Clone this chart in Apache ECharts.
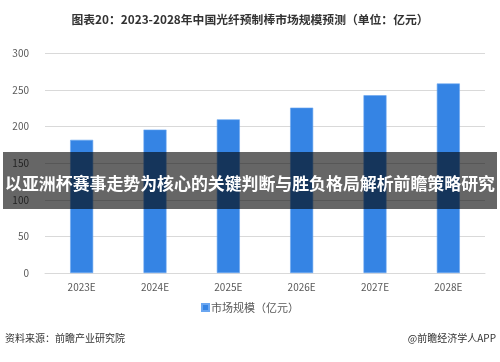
<!DOCTYPE html>
<html>
<head>
<meta charset="utf-8">
<script src="https://cdn.jsdelivr.net/npm/echarts@6/dist/echarts.min.js"></script>
<style>
html,body{margin:0;padding:0;background:#fff;}
#chart{width:500px;height:362px;}
</style>
</head>
<body>
<div id="chart"></div>
<script>
const categories = ['2023E','2024E','2025E','2026E','2027E','2028E'];
const marketSize = [182, 196, 210, 226, 243, 259];
const seriesName = '市场规模（亿元）';
const titleText = '图表20：2023-2028年中国光纤预制棒市场规模预测（单位：亿元）';
const sourceText = '资料来源：前瞻产业研究院';
const bannerText = '以亚洲杯赛事走势为核心的关键判断与胜负格局解析前瞻策略研究';

const chart = echarts.init(document.getElementById('chart'));
const font = '"Noto Sans CJK SC", "Noto Sans", sans-serif';
chart.setOption({
  animation: false,
  textStyle: {fontFamily: font},
  title: {
    text: titleText,
    left: 'center',
    top: 9,
    textStyle: {fontSize: 11.8, fontWeight: 'bold', color: '#333', fontFamily: font}
  },
  grid: {left: 45, right: 15, top: 53.5, bottom: 89, containLabel: false},
  legend: {
    data: [seriesName],
    bottom: 44,
    left: 'center',
    itemWidth: 7,
    itemHeight: 7,
    itemGap: 4,
    icon: 'rect',
    textStyle: {fontSize: 11, color: '#595959', fontFamily: font, padding: [0,0,0,-3]}
  },
  xAxis: {
    type: 'category',
    data: categories,
    axisLine: {lineStyle: {color: '#d9d9d9', width: 1}},
    axisTick: {show: false},
    axisLabel: {color: '#595959', fontSize: 10, margin: 9, fontFamily: font}
  },
  yAxis: {
    type: 'value',
    min: 0, max: 300, interval: 50,
    axisLine: {show: false},
    axisTick: {show: false},
    axisLabel: {color: '#595959', fontSize: 10, margin: 16, fontFamily: font},
    splitLine: {lineStyle: {color: '#d9d9d9', width: 1}}
  },
  series: [{
    name: seriesName,
    type: 'bar',
    data: marketSize,
    barWidth: 23,
    itemStyle: {color: '#3584e4', borderColor: '#6aa6f0', borderWidth: 0.6}
  }],
  graphic: [
    {type: 'text', left: 5, top: 333, style: {text: sourceText, fontSize: 10, fill: '#333', fontFamily: font}},
    {type: 'text', right: 4, top: 333, style: {text: '@前瞻经济学人APP', fontSize: 10, fill: '#333', fontFamily: font}},
    {type: 'rect', shape: {x: 3, y: 152, width: 494, height: 57}, style: {fill: 'rgba(0,0,0,0.6)'}, z: 100},
    {type: 'text', x: 250, y: 184, z: 101, style: {text: bannerText, fontSize: 16.9, fontWeight: 'bold', fill: '#fff', align: 'center', verticalAlign: 'middle', fontFamily: font}}
  ]
});
</script>
</body>
</html>
